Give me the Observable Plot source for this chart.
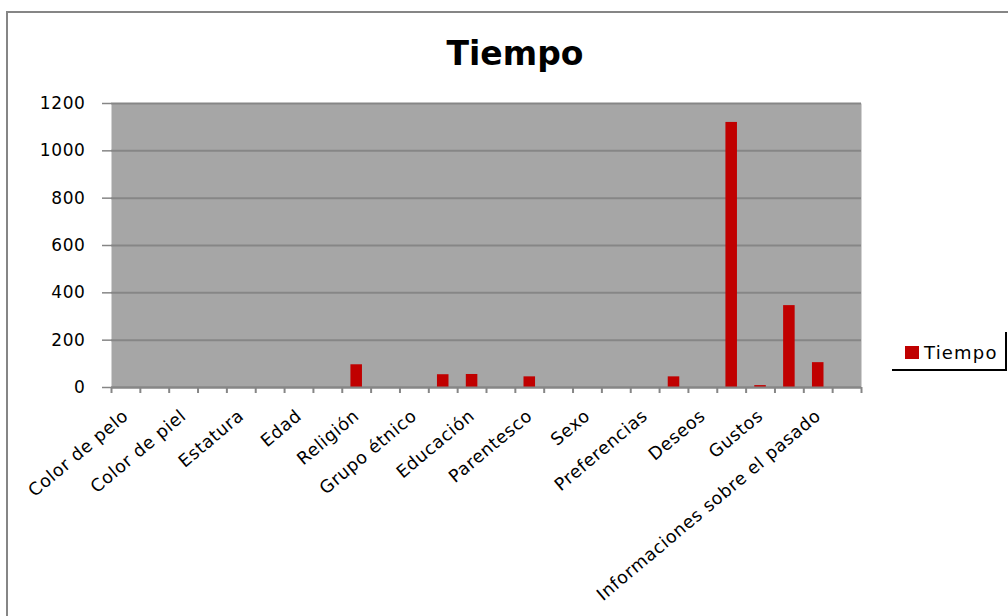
<!DOCTYPE html>
<html>
<head>
<meta charset="utf-8">
<script src="https://cdn.jsdelivr.net/npm/d3@7"></script>
<script src="https://cdn.jsdelivr.net/npm/@observablehq/plot@0.6"></script>
<style>
  body { margin: 0; background: #fff; }
  #wrap { position: relative; width: 1008px; height: 616px; overflow: hidden; background: #fff; font-family: "DejaVu Sans", sans-serif; }
  #border { position: absolute; left: 6px; top: 11px; width: 1200px; height: 800px; border-left: 2px solid #868686; border-top: 2px solid #868686; }
  #chart { position: absolute; left: 0; top: 0; }
  #chart svg text { letter-spacing: 0.6px; }
  #title { position: absolute; left: 0; width: 1030px; top: 37px; text-align: center; font: bold 33px/33px "DejaVu Sans", sans-serif; color: #000; }
  #legend { position: absolute; left: 892px; top: 332px; width: 113px; height: 37px; border-right: 2px solid #000; border-bottom: 2px solid #000; }
  #legend .sw { position: absolute; left: 13px; top: 14px; width: 14px; height: 13px; }
  #legend .lb { position: absolute; left: 32px; top: 12px; font: 18px/18px "DejaVu Sans", sans-serif; letter-spacing: 1.2px; color: #000; }
</style>
</head>
<body>
<div id="wrap">
  <div id="border"></div>
  <div id="chart"></div>
  <div id="title"></div>
  <div id="legend"><div class="sw"></div><div class="lb"></div></div>
</div>
<script>
// Data (26 category slots; Excel only labelled every other one)
const seriesName = "Tiempo";
const categories = [
  "Color de pelo", "", "Color de piel", "", "Estatura", "", "Edad", "",
  "Religión", "", "Grupo étnico", "", "Educación", "", "Parentesco", "",
  "Sexo", "", "Preferencias", "", "Deseos", "", "Gustos", "",
  "Informaciones sobre el pasado", ""
];
const values = [
  0, 0, 0, 0, 0, 0, 0, 0,
  96, 0, 0, 54, 55, 0, 45, 0,
  0, 0, 0, 45, 0, 1120, 8, 346,
  105, 0
];
const yTicks = [0, 200, 400, 600, 800, 1000, 1200];

const barColor = "#c00000";
const data = values.map((v, i) => ({i, name: categories[i], value: v}));
const slotEdges = d3.range(categories.length + 1);
const slotCenters = categories.map((_, i) => i + 0.5);

const chart = Plot.plot({
  width: 1008,
  height: 616,
  marginLeft: 111,
  marginRight: 147,
  marginTop: 103,
  marginBottom: 229,
  style: {background: "transparent", fontFamily: "DejaVu Sans, sans-serif", color: "#000"},
  x: {type: "linear", domain: [0, categories.length], axis: null},
  y: {domain: [0, 1200], axis: null},
  marks: [
    Plot.frame({fill: "#a6a6a6", stroke: null}),
    Plot.gridY(yTicks, {stroke: "#868686", strokeOpacity: 1, strokeWidth: 2}),
    Plot.rectY(data, {x1: d => d.i + 0.3, x2: d => d.i + 0.7, y1: 0, y2: "value", fill: barColor}),
    Plot.ruleY([0], {stroke: "#868686", strokeWidth: 2}),
    Plot.axisY(yTicks, {label: null, tickSize: 9, tickPadding: 17, fontSize: 17, tickFormat: d => String(d), stroke: "#868686", strokeWidth: 1.5}),
    Plot.axisX(slotEdges, {label: null, tickSize: 6, tickFormat: () => "", stroke: "#868686", strokeWidth: 2}),
    Plot.axisX(slotCenters, {label: null, tickSize: 0, tickPadding: 26, tickRotate: -40, fontSize: 17.5, tickFormat: d => categories[Math.round(d - 0.5)]})
  ]
});
document.getElementById("chart").appendChild(chart);
document.getElementById("title").textContent = seriesName;
document.querySelector("#legend .sw").style.background = barColor;
document.querySelector("#legend .lb").textContent = seriesName;
</script>
</body>
</html>
